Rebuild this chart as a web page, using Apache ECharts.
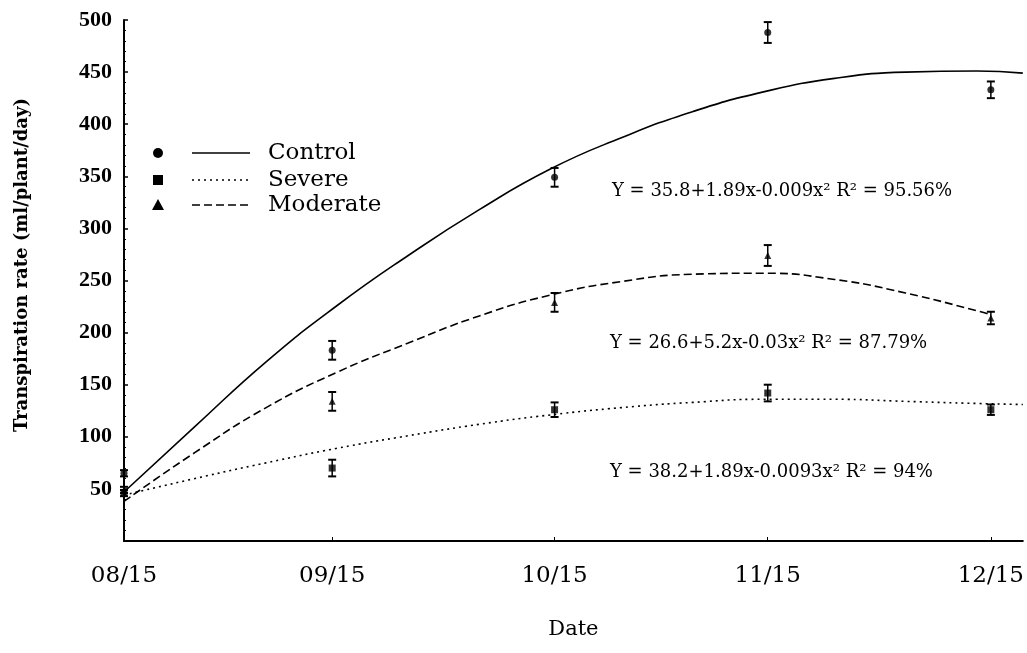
<!DOCTYPE html>
<html>
<head>
<meta charset="utf-8">
<script src="https://cdn.jsdelivr.net/npm/echarts@6/dist/echarts.min.js"></script>
<style>
html,body{margin:0;padding:0;background:#fff;}
#c{width:1027px;height:653px;}
</style>
</head>
<body>
<div id="c"></div>
<script>
// ---- data ----
const dateLabels = ['08/15', '09/15', '10/15', '11/15', '12/15'];
const sampleDays = [0, 29.3, 60.6, 90.6, 122];

const controlMean  = [65, 183, 349, 488, 433];
const controlErr   = [3, 9, 9, 10, 8];
const severeMean   = [46, 70, 126, 142, 126];
const severeErr    = [3, 8, 7, 8, 5];
const moderateMean = [49, 134, 229, 274, 214];
const moderateErr  = [3, 9, 9, 10, 6];

// fitted curves
const controlFitDays  = [0, 10, 20, 30, 40, 50, 60, 70, 80, 90, 100, 110, 120, 126.5];
const controlFit      = [47, 110, 172, 226, 274, 318, 357, 387, 412, 431, 444, 450, 451, 449];
const severeFitDays   = [0, 10, 20, 30, 40, 50, 60, 70, 80, 90, 100, 110, 120, 126.5];
const severeFit       = [44, 60, 75, 89, 101, 112, 121, 128, 133, 136, 136, 134, 132, 131];
const moderateFitDays = [0, 10, 20, 30, 40, 50, 60, 70, 80, 90, 100, 110, 120, 122];
const moderateFit     = [38, 85, 128, 162, 190, 216, 236, 249, 256, 257, 251, 238, 221, 217];

const yTicks = [50, 100, 150, 200, 250, 300, 350, 400, 450, 500];

const equations = [
  'Y = 35.8+1.89x-0.009x\u00B2 R\u00B2 = 95.56%',
  'Y = 26.6+5.2x-0.03x\u00B2 R\u00B2 = 87.79%',
  'Y = 38.2+1.89x-0.0093x\u00B2 R\u00B2 = 94%'
];
const legendNames = ['Control', 'Severe', 'Moderate'];
const yAxisTitle = 'Transpiration rate (ml/plant/day)';
const xAxisTitle = 'Date';

// ---- build ----
const F = 'DejaVu Serif';
const FL = 'Liberation Serif';
const pairs = (xs, ys) => xs.map((x, i) => [x, ys[i]]);
const errPairs = (ys, es) => sampleDays.map((x, i) => [x, ys[i], es[i]]);

function errRender(params, api) {
  const x = api.value(0), m = api.value(1), e = api.value(2);
  const t = api.coord([x, m + e]);
  const b = api.coord([x, m - e]);
  const w = 4;
  const st = {stroke: '#000', lineWidth: 1.5};
  return {type: 'group', children: [
    {type: 'line', shape: {x1: t[0], y1: t[1], x2: b[0], y2: b[1]}, style: st},
    {type: 'line', shape: {x1: t[0] - w, y1: t[1], x2: t[0] + w, y2: t[1]}, style: {stroke: '#000', lineWidth: 2}},
    {type: 'line', shape: {x1: b[0] - w, y1: b[1], x2: b[0] + w, y2: b[1]}, style: {stroke: '#000', lineWidth: 2}}
  ]};
}

const chart = echarts.init(document.getElementById('c'), null, {renderer: 'canvas'});

const fitSeries = (name, xs, ys, type) => ({
  name, type: 'line', smooth: true, showSymbol: false, silent: true,
  data: pairs(xs, ys),
  lineStyle: {color: '#000', width: 1.6, type: type},
  z: 2
});
const ptSeries = (name, ys, symbol) => ({
  name: name + ' pts', type: 'scatter', symbol, symbolSize: 7,
  data: pairs(sampleDays, ys),
  itemStyle: {color: '#000'}, z: 4
});
const errSeries = (ys, es) => ({
  type: 'custom', renderItem: errRender, data: errPairs(ys, es), z: 3,
  encode: {x: 0, y: 1}
});

const legendY = [153, 180, 205];
const graphics = [];
// legend markers
graphics.push({type: 'circle', shape: {cx: 158, cy: legendY[0], r: 5}, style: {fill: '#000'}});
graphics.push({type: 'rect', shape: {x: 153, y: legendY[1] - 5, width: 10, height: 10}, style: {fill: '#000'}});
graphics.push({type: 'polygon', shape: {points: [[158, legendY[2] - 6], [152, legendY[2] + 5], [164, legendY[2] + 5]]}, style: {fill: '#000'}});
// legend lines
graphics.push({type: 'line', shape: {x1: 192, y1: legendY[0], x2: 250, y2: legendY[0]}, style: {stroke: '#000', lineWidth: 1.6}});
graphics.push({type: 'line', shape: {x1: 192, y1: legendY[1], x2: 250, y2: legendY[1]}, style: {stroke: '#000', lineWidth: 1.6, lineDash: [2, 4]}});
graphics.push({type: 'line', shape: {x1: 192, y1: legendY[2], x2: 250, y2: legendY[2]}, style: {stroke: '#000', lineWidth: 1.6, lineDash: [8, 4]}});
legendNames.forEach((n, i) => {
  graphics.push({type: 'text', x: 268, y: legendY[i], style: {text: n, fill: '#000', font: '23px "' + F + '"', textVerticalAlign: 'middle'}});
});
const eqPos = [[612, 191], [610, 343], [610, 472]];
equations.forEach((t, i) => {
  graphics.push({type: 'text', x: eqPos[i][0], y: eqPos[i][1], style: {text: t, fill: '#000', font: '18px "' + F + '"', textVerticalAlign: 'middle'}});
});
// rotated y-axis title
graphics.push({type: 'text', x: 22, y: 265, rotation: Math.PI / 2,
  style: {text: yAxisTitle, fill: '#000', font: 'bold 18px "' + F + '"', textAlign: 'center', textVerticalAlign: 'middle'}});

chart.setOption({
  backgroundColor: '#fff',
  animation: false,
  grid: {left: 124, right: 0, top: 20, bottom: 112, containLabel: false},
  xAxis: {
    type: 'value', min: 0, max: 126.5,
    name: xAxisTitle, nameLocation: 'middle', nameGap: 78,
    nameTextStyle: {fontFamily: F, fontSize: 21, color: '#000'},
    axisLine: {show: true, lineStyle: {color: '#000', width: 2}},
    axisTick: {show: true, inside: true, length: 4, customValues: sampleDays, lineStyle: {color: '#000'}},
    axisLabel: {
      customValues: sampleDays,
      formatter: (v) => dateLabels[sampleDays.indexOf(v)] || '',
      fontFamily: F, fontSize: 23, color: '#000', margin: 24
    },
    splitLine: {show: false}
  },
  yAxis: {
    type: 'value', min: 0, max: 500, interval: 50,
    axisLine: {show: true, lineStyle: {color: '#000', width: 2}},
    axisTick: {show: true, inside: true, length: 4, lineStyle: {color: '#000', width: 1.5}},
    minorTick: {show: true, splitNumber: 5, length: 2, lineStyle: {color: '#000'}},
    axisLabel: {
      showMinLabel: false,
      formatter: (v) => (yTicks.indexOf(v) >= 0 ? String(v) : ''),
      fontFamily: FL, fontSize: 22, fontWeight: 'bold', color: '#000', margin: 12
    },
    splitLine: {show: false}
  },
  series: [
    fitSeries('Control', controlFitDays, controlFit, 'solid'),
    fitSeries('Severe', severeFitDays, severeFit, [2, 4]),
    fitSeries('Moderate', moderateFitDays, moderateFit, [8, 4]),
    errSeries(controlMean, controlErr),
    errSeries(severeMean, severeErr),
    errSeries(moderateMean, moderateErr),
    ptSeries('Control', controlMean, 'circle'),
    ptSeries('Severe', severeMean, 'rect'),
    ptSeries('Moderate', moderateMean, 'triangle')
  ],
  graphic: graphics
});
</script>
</body>
</html>
